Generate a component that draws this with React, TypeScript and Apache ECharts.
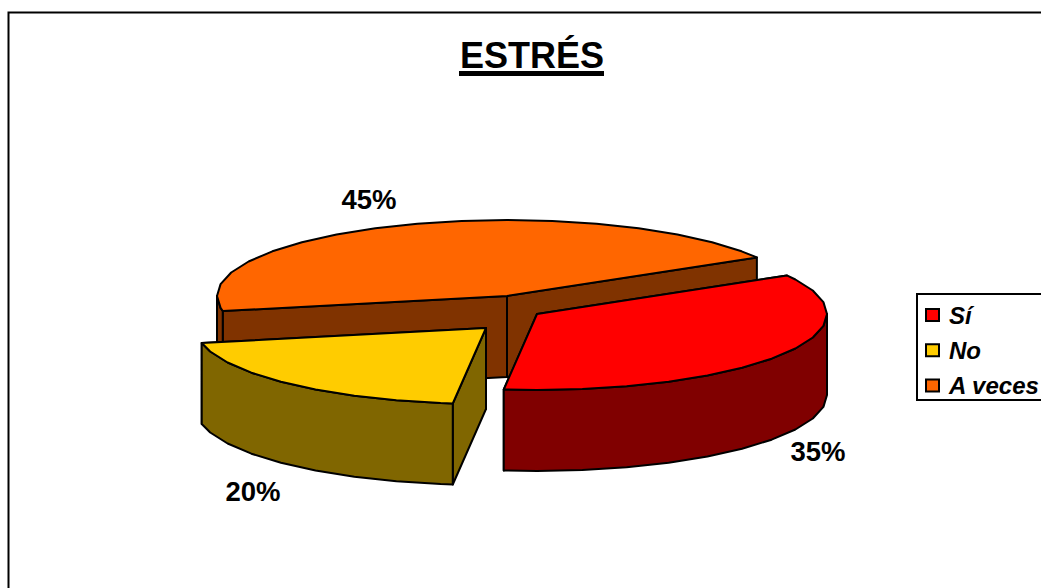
import React, { useEffect, useRef } from "react";
import * as echarts from "echarts";

const categories = ["Sí", "No", "A veces"];
const values = [35.3, 20, 44.7];
const topColors = ["#FF0000", "#FFCC00", "#FF6600"];
const wallColors = ["#800000", "#806600", "#803300"];
const explodeX = [30, -21, 0];
const explodeY = [18, 32, 0];
const labelX = [818, 253, 369];
const labelY = [451, 491, 199];
const drawOrder = [2, 1, 0];

const CX = 507;
const CY = 296;
const RX = 290;
const RY = 76;
const DEPTH = 81;
const START = -30.5;
const STEP = 9;
const rad = Math.PI / 180;

function sliceRange(i: number): [number, number] {
  const total = values.reduce((a, b) => a + b, 0);
  let acc = 0;
  for (let k = 0; k < i; k++) acc += values[k];
  return [START + (acc / total) * 360, START + ((acc + values[i]) / total) * 360];
}

function arcPoints(cx: number, cy: number, a0: number, a1: number) {
  const pts: number[][] = [];
  const first = Math.ceil(a0 / STEP) * STEP;
  pts.push([cx + RX * Math.cos(a0 * rad), cy + RY * Math.sin(a0 * rad)]);
  for (let a = first; a < a1; a += STEP) {
    if (a > a0) pts.push([cx + RX * Math.cos(a * rad), cy + RY * Math.sin(a * rad)]);
  }
  pts.push([cx + RX * Math.cos(a1 * rad), cy + RY * Math.sin(a1 * rad)]);
  return pts;
}

const lineStyle = (fill: string) => ({ fill, stroke: "#000", lineWidth: 2, lineJoin: "round" });

function renderSlice(params: any) {
  const i = drawOrder[params.seriesIndex];
  const [a0, a1] = sliceRange(i);
  const cx = CX + explodeX[i];
  const cy = CY + explodeY[i];
  const children: any[] = [];
  const wall = wallColors[i];

  for (const a of [a1, a0]) {
    const p = [cx + RX * Math.cos(a * rad), cy + RY * Math.sin(a * rad)];
    children.push({
      type: "polygon",
      shape: { points: [[cx, cy], p, [p[0], p[1] + DEPTH], [cx, cy + DEPTH]] },
      style: lineStyle(wall),
    });
  }

  const ranges: number[][] = [
    [a0, a1],
    [a0 - 360, a1 - 360],
    [a0 + 360, a1 + 360],
  ];
  for (const [r0, r1] of ranges) {
    const v0 = Math.max(r0, 0);
    const v1 = Math.min(r1, 180);
    if (v1 > v0) {
      const upper = arcPoints(cx, cy, v0, v1);
      const lower = upper.map((p) => [p[0], p[1] + DEPTH]).reverse();
      children.push({ type: "polygon", shape: { points: upper.concat(lower) }, style: lineStyle(wall) });
    }
  }

  children.push({
    type: "polygon",
    shape: { points: [[cx, cy] as number[]].concat(arcPoints(cx, cy, a0, a1)) },
    style: lineStyle(topColors[i]),
  });

  const total = values.reduce((a, b) => a + b, 0);
  children.push({
    type: "text",
    style: {
      text: `${Math.round((values[i] / total) * 100)}%`,
      x: labelX[i],
      y: labelY[i],
      fill: "#000",
      font: 'bold 27.5px "Liberation Sans", Arial, sans-serif',
      textAlign: "center",
      textVerticalAlign: "middle",
    },
  });
  return { type: "group", children };
}

export default function App() {
  const ref = useRef<HTMLDivElement>(null);
  useEffect(() => {
    document.body.style.margin = "0";
    document.body.style.overflow = "hidden";
    const chart = echarts.init(ref.current!, null, { renderer: "svg" });
    chart.setOption({
      animation: false,
      backgroundColor: "#fff",
      title: {
        text: "ESTRÉS",
        left: 532,
        top: 37,
        textAlign: "center",
        padding: 0,
        textStyle: {
          color: "#000",
          fontFamily: '"Liberation Sans", Arial, sans-serif',
          fontWeight: "bold",
          fontSize: 36,
        },
      },
      legend: {
        orient: "vertical",
        left: 917,
        top: 294,
        padding: [8, 30, 1.5, 8],
        borderColor: "#000",
        borderWidth: 2,
        backgroundColor: "#fff",
        itemWidth: 13,
        itemHeight: 12,
        itemGap: 9.25,
        selectedMode: false,
        data: categories.map((name, i) => ({
          name,
          icon: "rect",
          itemStyle: { color: topColors[i], borderColor: "#000", borderWidth: 2 },
        })),
        textStyle: {
          color: "#000",
          fontFamily: '"Liberation Sans", Arial, sans-serif',
          fontWeight: "bold",
          fontStyle: "italic",
          fontSize: 24,
          lineHeight: 26,
          padding: [0, 0, 0, 5],
        },
      },
      graphic: [
        {
          type: "polyline",
          shape: { points: [[8.5, 588], [8.5, 12.5], [1041, 12.5]] },
          style: { stroke: "#000", lineWidth: 2, fill: "none" },
          z: 0,
        },
        {
          type: "rect",
          shape: { x: 459, y: 71, width: 145, height: 5 },
          style: { fill: "#000" },
          z: 10,
        },
      ],
      series: drawOrder.map((i, order) => ({
        type: "custom",
        name: categories[i],
        coordinateSystem: "none",
        z: 2 + order,
        silent: true,
        itemStyle: { color: topColors[i] },
        data: [[values[i]]],
        renderItem: renderSlice,
      })),
    });
    return () => chart.dispose();
  }, []);
  return <div ref={ref} style={{ width: 1041, height: 588 }} />;
}
